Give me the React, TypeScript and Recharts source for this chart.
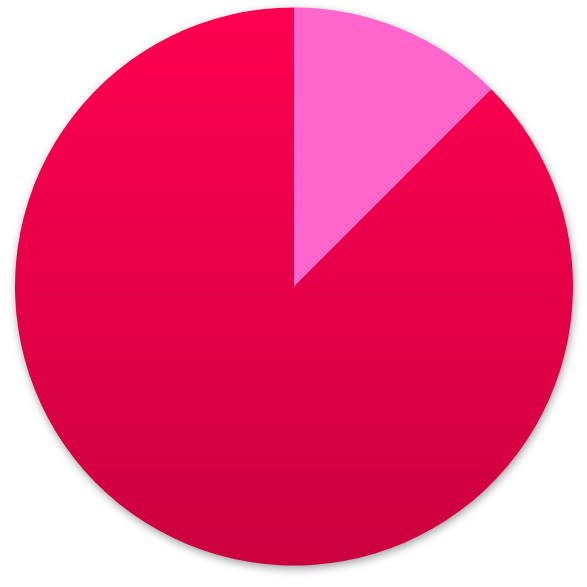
import React from "react";
import { PieChart, Pie, Cell } from "recharts";

const categories = ["Part A", "Part B"];
const values = [1, 7];
const colors = ["#FF66CC", "url(#redGrad)"];

const data = categories.map((name, i) => ({ name, value: values[i] }));

export default function App() {
  return (
    <div
      style={{
        position: "absolute",
        left: 0,
        top: 0,
        width: 587,
        height: 587,
        background: "#fff",
      }}
    >
      <div style={{ filter: "drop-shadow(1px 3px 4px rgba(0,0,0,0.38))" }}>
        <PieChart width={587} height={587} margin={{ top: 0, right: 0, bottom: 0, left: 0 }}>
          <defs>
            <linearGradient id="redGrad" x1="0" y1="0" x2="0" y2="1">
              <stop offset="0%" stopColor="#FF0050" />
              <stop offset="100%" stopColor="#CB003F" />
            </linearGradient>
          </defs>
          <Pie
            data={data}
            dataKey="value"
            nameKey="name"
            cx={294}
            cy={286.5}
            outerRadius={279}
            startAngle={90}
            endAngle={-270}
            stroke="none"
            isAnimationActive={false}
          >
            {data.map((d, i) => (
              <Cell key={d.name} fill={colors[i]} />
            ))}
          </Pie>
        </PieChart>
      </div>
    </div>
  );
}
